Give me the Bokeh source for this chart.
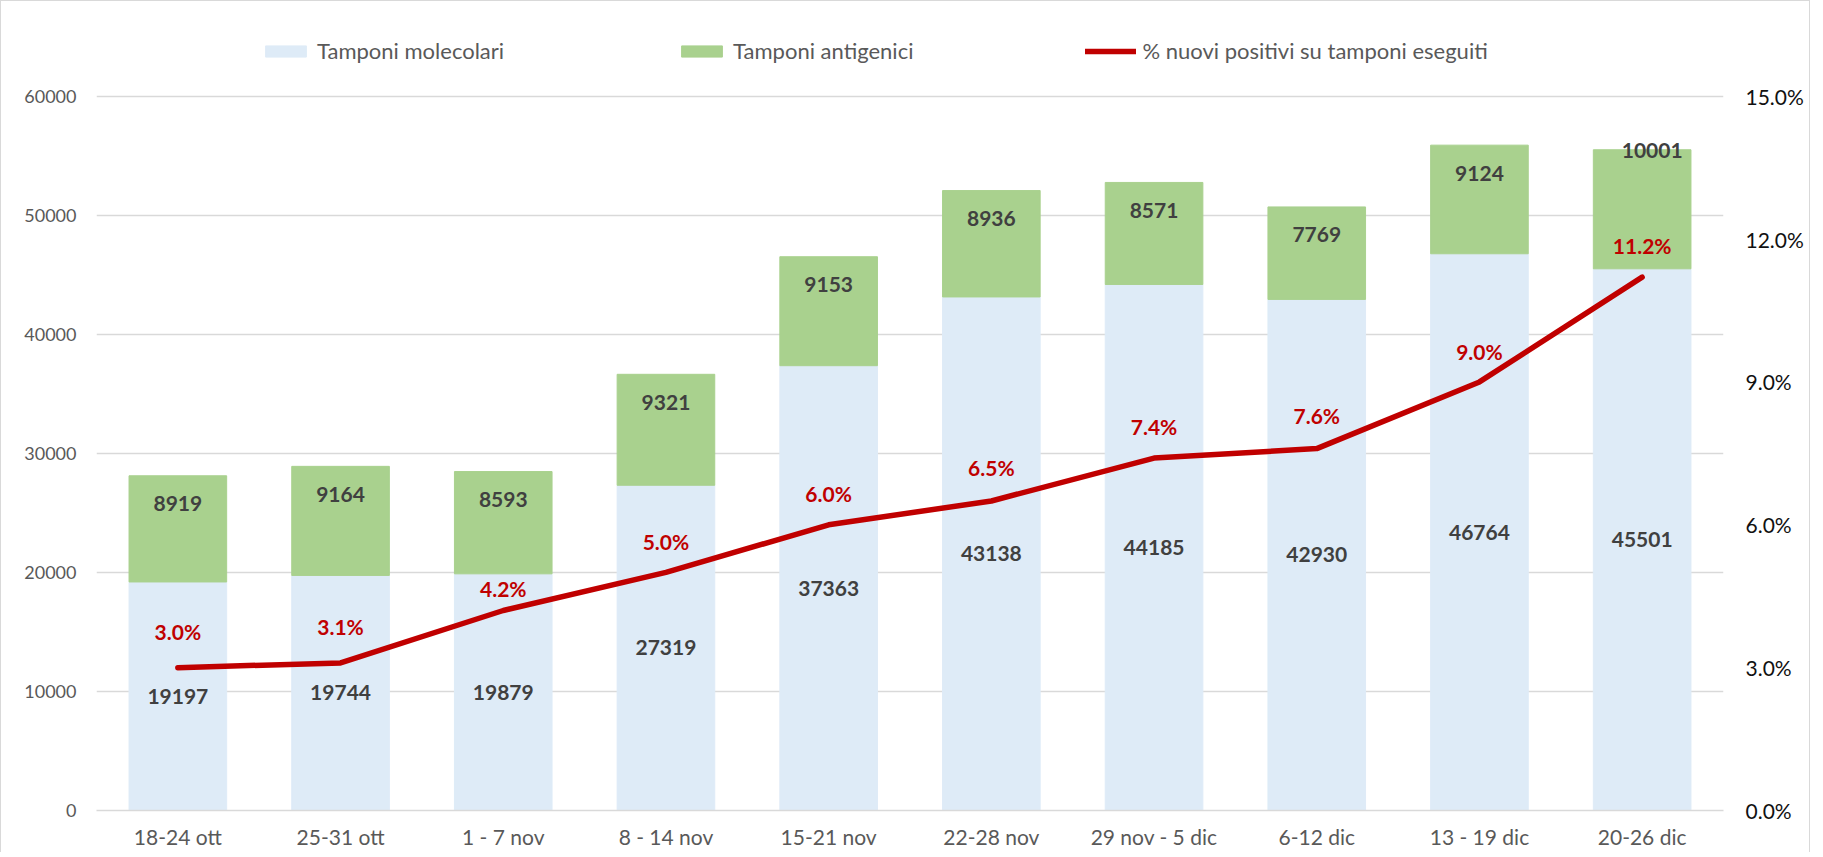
from bokeh.plotting import figure
from bokeh.models import (Range1d, LinearAxis, NumeralTickFormatter, Legend,
                          LegendItem, ColumnDataSource, FixedTicker)
from bokeh.core.properties import value
from bokeh.embed import file_html
from bokeh.resources import INLINE

# ---- data ----
weeks = ["18-24 ott", "25-31 ott", "1 - 7 nov", "8 - 14 nov", "15-21 nov",
         "22-28 nov", "29 nov - 5 dic", "6-12 dic", "13 - 19 dic", "20-26 dic"]
molecolari = [19197, 19744, 19879, 27319, 37363, 43138, 44185, 42930, 46764, 45501]
antigenici = [8919, 9164, 8593, 9321, 9153, 8936, 8571, 7769, 9124, 10001]
pct_positivi = [3.0, 3.1, 4.2, 5.0, 6.0, 6.5, 7.4, 7.6, 9.0, 11.2]
left_ticks = [0, 10000, 20000, 30000, 40000, 50000, 60000]
right_ticks = [0.0, 0.03, 0.06, 0.09, 0.12, 0.15]
LEFT_MAX = 60000
RIGHT_MAX = 0.15

# label offsets (screen px) as in the original layout
green_dy = [28, 28, 28, 28, 28, 28, 28, 28, 28, 1]
green_dx = [0, 0, 0, 0, 0, 0, 0, 0, 0, 10]
pct_dy = [-36, -36, -22, -31, -31, -33, -32, -33, -30, -32]

FONT = "Lato"
C_MOL = "#deebf7"
C_ANT = "#a9d18e"
C_LINE = "#c00000"
C_GRID = "#d9d9d9"

# ---- layout (px) ----
W, H = 1810, 852
B_LEFT, B_RIGHT, B_TOP, B_BOTTOM = 95, 88, 28, 43
TOP_GRID_FROM_FRAME_TOP = 66.7   # the legend lives in the headroom above 60000
frame_h = H - B_TOP - B_BOTTOM
k = frame_h / (frame_h - TOP_GRID_FROM_FRAME_TOP)

src = ColumnDataSource(dict(
    weeks=weeks,
    molecolari=molecolari,
    antigenici=antigenici,
    pct=[v / 100 for v in pct_positivi],
    mol_mid=[m / 2 for m in molecolari],
    total=[m + a for m, a in zip(molecolari, antigenici)],
    mol_txt=[str(m) for m in molecolari],
    ant_txt=[str(a) for a in antigenici],
    pct_txt=["%.1f%%" % v for v in pct_positivi],
    green_dy=green_dy, green_dx=green_dx, pct_dy=pct_dy,
))

p = figure(x_range=weeks, y_range=Range1d(0, LEFT_MAX * k), width=W, height=H,
           output_backend="svg", toolbar_location=None,
           min_border_left=B_LEFT, min_border_right=B_RIGHT,
           min_border_top=B_TOP, min_border_bottom=B_BOTTOM,
           styles={"border-top": "1px solid #d9d9d9",
                   "border-left": "1px solid #d9d9d9",
                   "border-right": "1px solid #d9d9d9",
                   "box-sizing": "border-box"})
p.extra_y_ranges = {"pct": Range1d(0, RIGHT_MAX * k)}
p.outline_line_color = None
p.background_fill_color = "white"
p.border_fill_color = "white"

# grid
p.xgrid.grid_line_color = None
p.ygrid.grid_line_color = C_GRID
p.ygrid.grid_line_width = 1.3
p.ygrid.ticker = FixedTicker(ticks=left_ticks)

# bars
bars = p.vbar_stack(["molecolari", "antigenici"], x="weeks", width=0.6,
                    color=[C_MOL, C_ANT], source=src)

# line
ln = p.line(x="weeks", y="pct", y_range_name="pct", source=src,
            line_width=5.5, line_color=C_LINE, line_cap="round", line_join="round")

# labels
p.text(x="weeks", y="mol_mid", text="mol_txt", source=src,
       text_align="center", text_baseline="middle",
       text_font=value(FONT), text_font_style="bold",
       text_font_size="21px", text_color="#404040")
p.text(x="weeks", y="total", text="ant_txt", source=src,
       x_offset="green_dx", y_offset="green_dy",
       text_align="center", text_baseline="middle",
       text_font=value(FONT), text_font_style="bold",
       text_font_size="21px", text_color="#404040")
p.text(x="weeks", y="pct", text="pct_txt", source=src, y_range_name="pct",
       y_offset="pct_dy",
       text_align="center", text_baseline="middle",
       text_font=value(FONT), text_font_style="bold",
       text_font_size="21px", text_color=C_LINE)


def clean_axis(ax):
    ax.major_tick_line_color = None
    ax.minor_tick_line_color = None
    ax.major_tick_out = 0
    ax.major_tick_in = 0
    ax.minor_tick_out = 0
    ax.minor_tick_in = 0


# axes
xa = p.xaxis[0]
clean_axis(xa)
xa.axis_line_color = C_GRID
xa.axis_line_width = 1.5
xa.major_label_text_font = FONT
xa.major_label_text_font_size = "21px"
xa.major_label_text_color = "#595959"
xa.major_label_standoff = 13

ya = p.yaxis[0]
clean_axis(ya)
ya.ticker = FixedTicker(ticks=left_ticks)
ya.axis_line_color = None
ya.major_label_text_font = FONT
ya.major_label_text_font_size = "18px"
ya.major_label_text_color = "#595959"
ya.major_label_standoff = 20

ra = LinearAxis(y_range_name="pct", ticker=FixedTicker(ticks=right_ticks),
                formatter=NumeralTickFormatter(format="0.0%"))
clean_axis(ra)
ra.axis_line_color = None
ra.major_label_text_font = FONT
ra.major_label_text_font_size = "21px"
ra.major_label_text_color = "#111111"
ra.major_label_standoff = 22
p.add_layout(ra, "right")

# legend (single horizontal row in the headroom of the plot area)
legend = Legend(items=[LegendItem(label="Tamponi molecolari", renderers=[bars[0]]),
                       LegendItem(label="Tamponi antigenici", renderers=[bars[1]]),
                       LegendItem(label="% nuovi positivi su tamponi eseguiti",
                                  renderers=[ln])],
                location=(164, frame_h - 35), orientation="horizontal",
                glyph_width=51, glyph_height=14, label_standoff=6,
                padding=0, margin=0, spacing=172,
                border_line_color=None, background_fill_alpha=0,
                label_text_font=FONT, label_text_font_size="22px",
                label_text_color="#595959")
p.add_layout(legend, "center")

open("out.html", "w").write(file_html(p, INLINE))
